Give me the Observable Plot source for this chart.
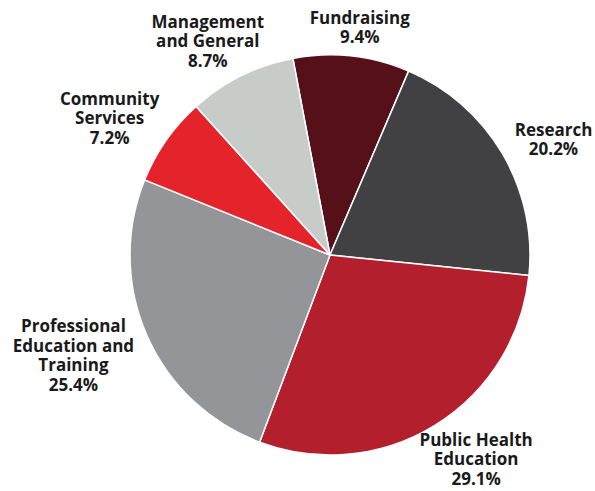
<!DOCTYPE html>
<html>
<head>
<meta charset="utf-8">
<script src="https://cdn.jsdelivr.net/npm/d3@7"></script>
<script src="https://cdn.jsdelivr.net/npm/@observablehq/plot@0.6"></script>
<style>
  html, body { margin: 0; padding: 0; background: #fff; }
  #chart svg { display: block; }
</style>
</head>
<body>
<div id="chart"></div>
<script>
const categories = ["Fundraising", "Research", "Public Health\nEducation", "Professional\nEducation and\nTraining", "Community\nServices", "Management\nand General"];
const values = [9.4, 20.2, 29.1, 25.4, 7.2, 8.7];
const colors = ["#55101a", "#414042", "#b41f2e", "#939598", "#e4232b", "#c8ccc9"];

const W = 595, H = 491;
const R = 200;
const FAMILY = "'Open Sans', Lato, sans-serif";
const FS = 17;
const data = categories.map((c, i) => ({category: c, value: values[i], color: colors[i]}));

const start = -10.7 * Math.PI / 180;
const arcs = d3.pie().sort(null).value(d => d.value).startAngle(start).endAngle(start + 2 * Math.PI)(data);

// label placement: just outside each wedge's mid angle, pushed out by the text block's half-size
const ctx = document.createElement("canvas").getContext("2d");
ctx.font = `bold ${FS}px ${FAMILY}`;
const lineH = 19.5;
const labels = arcs.map(a => {
  const mid = (a.startAngle + a.endAngle) / 2;
  const lines = (a.data.category + "\n" + a.data.value.toFixed(1) + "%").split("\n");
  const hw = d3.max(lines, l => ctx.measureText(l).width) / 2;
  const hh = lines.length * lineH / 2;
  const s = Math.sin(mid), c = Math.cos(mid);
  return {
    text: lines.join("\n"),
    x: s * (R * 1.1 + hw),
    y: -c * (R * 1.05 + hh)
  };
});

const wedges = (index, scales) => {
  const cx = scales.x(0), cy = scales.y(0);
  const pr = scales.x(R) - scales.x(0);
  const arc = d3.arc().innerRadius(0).outerRadius(pr);
  const g = d3.create("svg:g").attr("transform", `translate(${cx},${cy})`);
  g.selectAll("path").data(arcs).join("path")
    .attr("d", arc)
    .attr("fill", d => d.data.color)
    .attr("stroke", "#fff")
    .attr("stroke-width", 1.5)
    .attr("stroke-linejoin", "round");
  return g.node();
};

const chart = Plot.plot({
  width: W,
  height: H,
  margin: 0,
  x: {domain: [-330, W - 330], range: [0, W], axis: null},
  y: {domain: [-255, H - 255], range: [0, H], axis: null},
  style: {background: "#fff"},
  marks: [
    wedges,
    Plot.text(labels, {
      x: "x", y: "y", text: "text",
      fontSize: FS, fontWeight: "bold",
      fontFamily: FAMILY,
      fill: "#1a1a1a", lineHeight: lineH / FS,
      textAnchor: "middle", lineAnchor: "middle"
    })
  ]
});
document.getElementById("chart").append(chart);
</script>
</body>
</html>
